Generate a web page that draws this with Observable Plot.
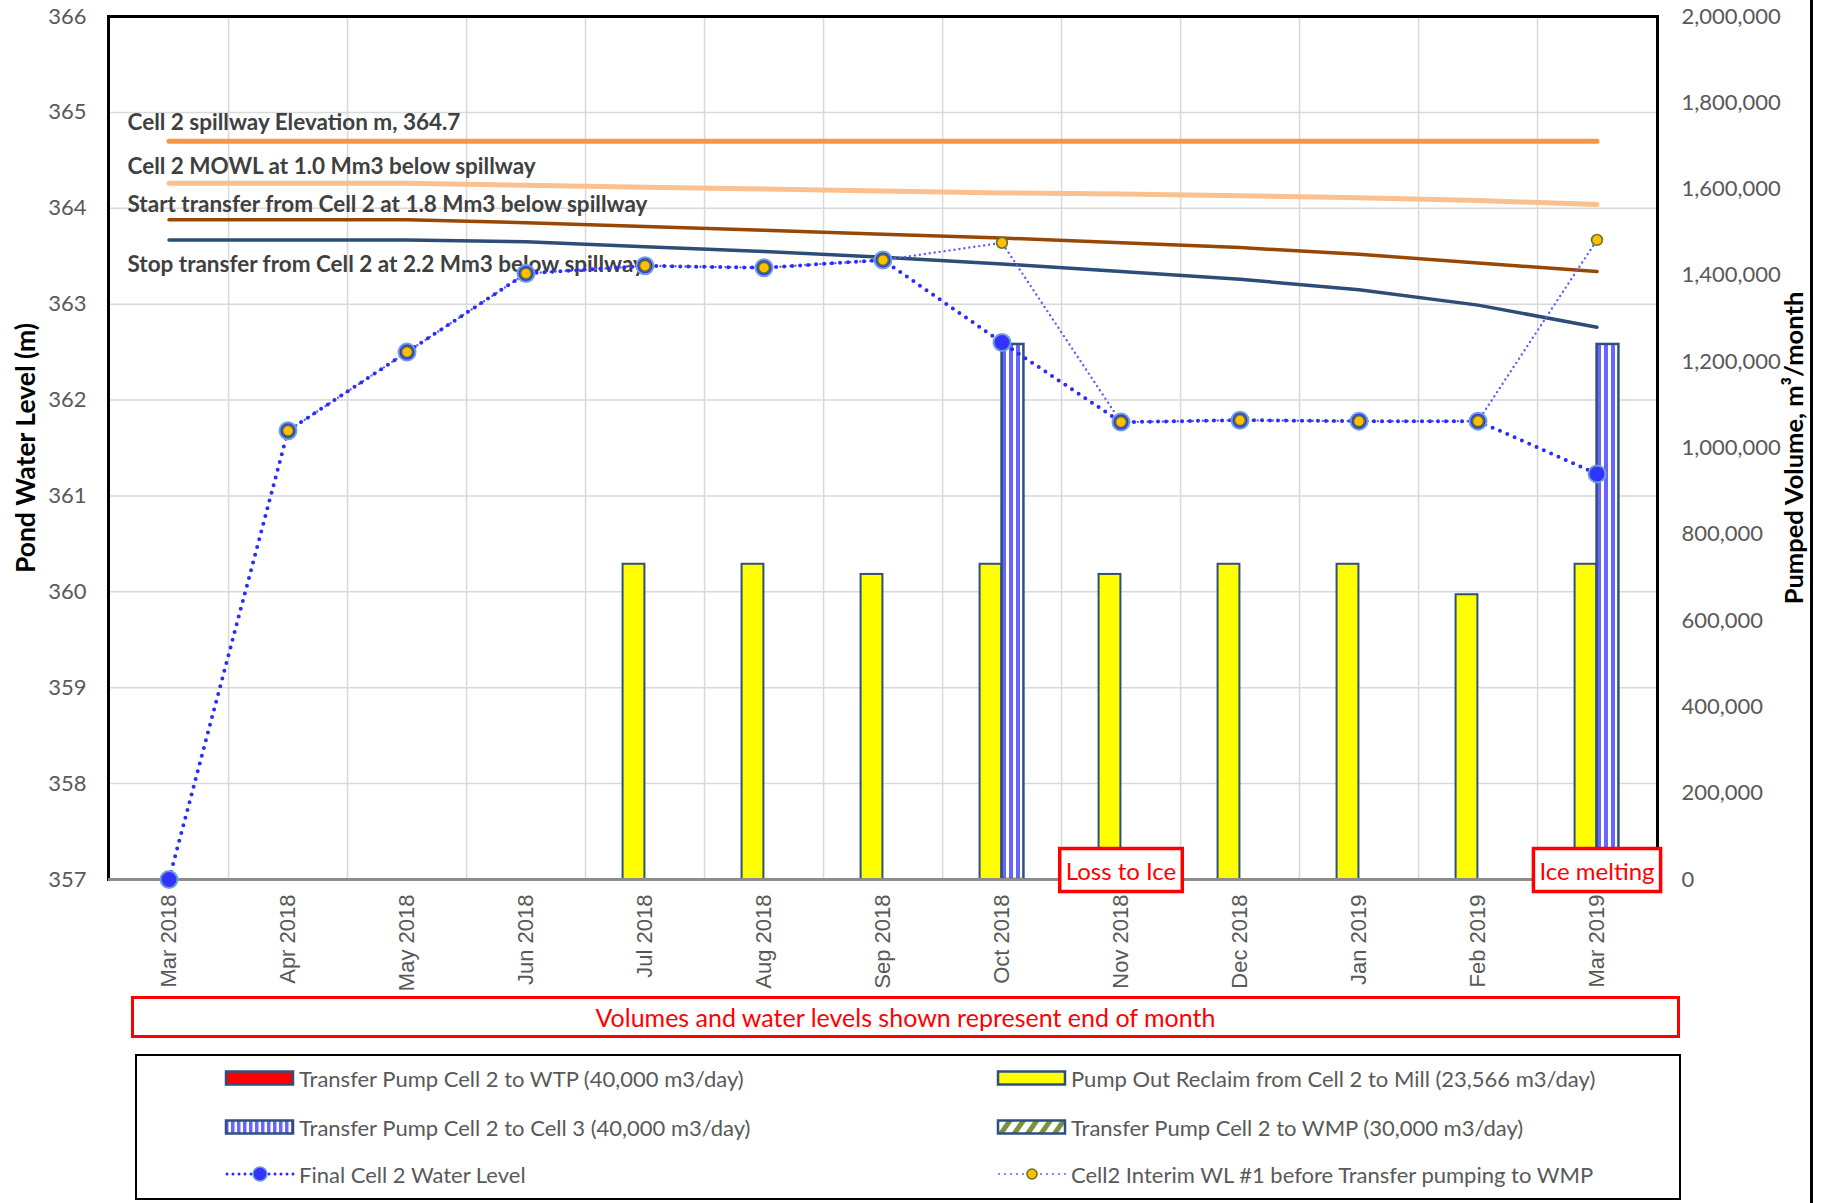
<!DOCTYPE html>
<html>
<head>
<meta charset="utf-8">
<script src="https://cdn.jsdelivr.net/npm/d3@7"></script>
<script src="https://cdn.jsdelivr.net/npm/@observablehq/plot@0.6"></script>
<style>
  html, body { margin: 0; padding: 0; background: #fff; }
  #wrap { position: relative; width: 1823px; height: 1203px; overflow: hidden; font-family: Lato, "Open Sans", sans-serif; }
  #chart { position: absolute; left: 0; top: 0; }
  #note { position: absolute; left: 131px; top: 996px; width: 1543px; height: 36px; border: 3px solid #ff0000;
          color: #ff0000; font-size: 25px; text-align: center; line-height: 36px; }
  #legend { position: absolute; left: 135px; top: 1054px; width: 1542px; height: 142px; border: 2.5px solid #000; }
  .lg { position: absolute; display: flex; align-items: center; height: 30px; color: #595959; font-size: 22px; white-space: nowrap; }
  .lg svg { margin-right: 3px; }
  #rightline { position: absolute; left: 1810px; top: 0; width: 3px; height: 1203px; background: #000; }
</style>
</head>
<body>
<div id="wrap">
  <div id="chart"></div>
  <div id="note"></div>
  <div id="legend"></div>
  <div id="rightline"></div>
</div>
<script>
// ---------------- DATA ----------------
const months = ["Mar 2018","Apr 2018","May 2018","Jun 2018","Jul 2018","Aug 2018","Sep 2018",
                "Oct 2018","Nov 2018","Dec 2018","Jan 2019","Feb 2019","Mar 2019"];

// Pond water levels (m)
const finalLevel   = [357.00, 361.68, 362.50, 363.32, 363.40, 363.38, 363.46, 362.60, 361.77, 361.79, 361.78, 361.78, 361.23];
const interimLevel = [null,   361.68, 362.50, 363.32, 363.40, 363.38, 363.46, 363.64, 361.77, 361.79, 361.78, 361.78, 363.67];

// Reference elevations (m)
const spillwayLevel = [364.70, 364.70, 364.70, 364.70, 364.70, 364.70, 364.70, 364.70, 364.70, 364.70, 364.70, 364.70, 364.70];
const mowlLevel     = [364.26, 364.26, 364.26, 364.24, 364.22, 364.20, 364.18, 364.16, 364.15, 364.13, 364.11, 364.08, 364.04];
const startLevel    = [363.88, 363.88, 363.88, 363.85, 363.81, 363.77, 363.73, 363.69, 363.64, 363.59, 363.52, 363.43, 363.34];
const stopLevel     = [363.67, 363.67, 363.67, 363.65, 363.60, 363.55, 363.49, 363.42, 363.34, 363.26, 363.15, 362.99, 362.76];

// Pumped volumes (m3/month)
const wtpVolume     = [0,0,0,0,0,0,0,0,0,0,0,0,0];
const reclaimVolume = [0,0,0,0,730546,730546,706980,730546,706980,730546,730546,659848,730546];
const cell3Volume   = [0,0,0,0,0,0,0,1240000,0,0,0,0,1240000];
const wmpVolume     = [0,0,0,0,0,0,0,0,0,0,0,0,0];

// Axis ticks
const levelTicks  = [357, 358, 359, 360, 361, 362, 363, 364, 365, 366];
const volumeTicks = [0, 200000, 400000, 600000, 800000, 1000000, 1200000, 1400000, 1600000, 1800000, 2000000];

// Texts
const refLabels = ["Cell 2 spillway Elevation m, 364.7",
                   "Cell 2 MOWL at 1.0 Mm3 below spillway",
                   "Start transfer from Cell 2 at 1.8 Mm3 below spillway",
                   "Stop transfer from Cell 2 at 2.2 Mm3 below spillway"];
const noteMonths = ["Nov 2018", "Mar 2019"];
const noteTexts  = ["Loss to Ice", "Ice melting"];
const footNote = "Volumes and water levels shown represent end of month";
const legendNames = ["Transfer Pump Cell 2 to WTP (40,000 m3/day)",
                     "Pump Out Reclaim from Cell 2 to Mill (23,566 m3/day)",
                     "Transfer Pump Cell 2 to Cell 3 (40,000 m3/day)",
                     "Transfer Pump Cell 2 to WMP (30,000 m3/day)",
                     "Final Cell 2 Water Level",
                     "Cell2 Interim WL #1 before Transfer pumping to WMP"];
const leftTitle = "Pond Water Level (m)";
const rightTitle = "Pumped Volume, m\u00B3/month";

// ---------------- CHART ----------------
const W = 1823, H = 995;
const mL = 108, mR = 166, mT = 16, mB = 116;
const bw = (W - mL - mR) / months.length;
const barW = 22;
const yMin = 357, yMax = 366, vMax = 2000000;
const toLevel = v => yMin + v / vMax * (yMax - yMin);
const toVolume = l => Math.round((l - yMin) / (yMax - yMin) * vMax);

const series = arr => months.map((m, i) => ({month: m, value: arr[i]})).filter(d => d.value != null);
const volSeries = arr => months.map((m, i) => ({month: m, value: arr[i]})).filter(d => d.value > 0);

const refs = [
  {data: series(spillwayLevel), stroke: "#f79646", w: 5,   label: refLabels[0], dy: -18},
  {data: series(mowlLevel),     stroke: "#fac090", w: 5,   label: refLabels[1], dy: -17},
  {data: series(startLevel),    stroke: "#974706", w: 3.5, label: refLabels[2], dy: -15},
  {data: series(stopLevel),     stroke: "#2c4d75", w: 3.5, label: refLabels[3], dy: 25}
];

const notes = noteMonths.map((m, i) => ({month: m, level: 357.08, text: noteTexts[i]}));

const fontCal = "Lato, 'Open Sans', sans-serif";

const chart = Plot.plot({
  width: W, height: H,
  marginLeft: mL, marginRight: mR, marginTop: mT, marginBottom: mB,
  x: {type: "band", domain: months, padding: 0, axis: null},
  y: {domain: [yMin, yMax], axis: null},
  style: {background: "white", fontFamily: fontCal, overflow: "visible"},
  marks: [
    Plot.gridY(levelTicks, {stroke: "#d9d9d9", strokeOpacity: 1, strokeWidth: 1.5}),
    Plot.ruleX(months.slice(0, -1), {x: d => d, dx: bw / 2, stroke: "#d9d9d9", strokeWidth: 1.5}),
    // bars
    Plot.barY(volSeries(wtpVolume), {x: "month", y1: yMin, y2: d => toLevel(d.value), fill: "#ff0000", stroke: "#2f4f7f", strokeWidth: 2,
      insetLeft: bw / 2 - 2 * barW, insetRight: bw / 2 + barW}),
    Plot.barY(volSeries(reclaimVolume), {x: "month", y1: yMin, y2: d => toLevel(d.value), fill: "#ffff00", stroke: "#2f4f7f", strokeWidth: 2,
      insetLeft: bw / 2 - barW, insetRight: bw / 2}),
    Plot.barY(volSeries(cell3Volume), {x: "month", y1: yMin, y2: d => toLevel(d.value), fill: "url(#stripes)", stroke: "#2f4f7f", strokeWidth: 2.5,
      insetLeft: bw / 2, insetRight: bw / 2 - barW}),
    Plot.barY(volSeries(wmpVolume), {x: "month", y1: yMin, y2: d => toLevel(d.value), fill: "url(#hatch)", stroke: "#2f4f7f", strokeWidth: 2,
      insetLeft: bw / 2 + barW, insetRight: bw / 2 - 2 * barW}),
    // frame and axis line
    Plot.frame({stroke: "#000", strokeWidth: 3}),
    Plot.ruleY([yMin], {stroke: "#8c8c8c", strokeWidth: 3}),
    // reference lines
    ...refs.map(r => Plot.line(r.data, {x: "month", y: "value", stroke: r.stroke, strokeWidth: r.w, strokeLinecap: "round"})),
    ...refs.map(r => Plot.text([r.data[0]], {y: "value", text: () => r.label, frameAnchor: "left", dx: 19, dy: r.dy,
      textAnchor: "start", fontSize: 22.5, fontWeight: "bold", fill: "#404040", fontFamily: fontCal})),
    // water levels
    Plot.line(series(interimLevel), {x: "month", y: "value", stroke: "#5c5cff", strokeWidth: 2.4, strokeDasharray: "0 5", strokeLinecap: "round"}),
    Plot.line(series(finalLevel), {x: "month", y: "value", stroke: "#2b2bff", strokeWidth: 4, strokeDasharray: "0 8", strokeLinecap: "round"}),
    Plot.dot(series(finalLevel), {x: "month", y: "value", r: 8.5, fill: "#3333ff", stroke: "#6fa0d4", strokeWidth: 2}),
    Plot.dot(series(interimLevel), {x: "month", y: "value", r: 5.4, fill: "#ffc000", stroke: "#5f7428", strokeWidth: 1.6}),
    // axes
    Plot.axisX({tickRotate: -90, tickSize: 0, tickPadding: 15, fontSize: 22, fill: "#595959", fontFamily: "'Liberation Sans', Arial, sans-serif", label: null}),
    Plot.axisY(levelTicks, {anchor: "left", tickSize: 0, tickPadding: 22, fontSize: 22, fill: "#595959", label: null, tickFormat: d => String(d)}),
    Plot.axisY(volumeTicks.map(toLevel), {anchor: "right", tickSize: 0, tickPadding: 24, fontSize: 22, fill: "#595959", label: null,
      tickFormat: l => d3.format(",")(toVolume(l))}),
    Plot.text([leftTitle], {text: d => d, frameAnchor: "left", textAnchor: "middle", dx: -82, rotate: -90, fontSize: 26.5, fontWeight: "bold", fill: "#000"}),
    Plot.text([rightTitle], {text: d => d, frameAnchor: "right", textAnchor: "middle", dx: 137, rotate: -90, fontSize: 25.5, fontWeight: "bold", fill: "#000"}),
    // notes
    Plot.text(notes, {x: "month", y: "level", text: "text", fill: "#ff0000", fontSize: 24, fontFamily: fontCal})
  ]
});

document.getElementById("chart").appendChild(chart);

// patterns
d3.select(chart).insert("defs", ":first-child").html(`
  <pattern id="stripes" patternUnits="userSpaceOnUse" width="7" height="10">
    <rect width="7" height="10" fill="#fff"/><rect x="1" width="4" height="10" fill="#6666ff"/>
  </pattern>
  <pattern id="hatch" patternUnits="userSpaceOnUse" width="10" height="10" patternTransform="rotate(35)">
    <rect width="10" height="10" fill="#fff"/><rect width="5" height="10" fill="#77933c"/>
  </pattern>`);

// boxes around notes
const svgRect = chart.getBoundingClientRect();
d3.select(chart).selectAll("g[fill='#ff0000'] text").each(function() {
  const b = this.getBoundingClientRect();
  const padX = 6, padY = 8;
  d3.select(chart).append("rect")
    .attr("x", b.left - svgRect.left - padX).attr("y", b.top - svgRect.top - padY + 1)
    .attr("width", b.width + 2 * padX).attr("height", b.height + 2 * padY - 2)
    .attr("fill", "#fff").attr("stroke", "#ff0000").attr("stroke-width", 3.5);
});
d3.select(chart).selectAll("g[fill='#ff0000']").raise();

// footnote
document.getElementById("note").textContent = footNote;

// legend
const legendKinds = [
  {fill: "#ff0000"}, {fill: "#ffff00"}, {fill: "url(#lgStripes)"}, {fill: "url(#lgHatch)"},
  {line: "#2b2bff", dot: "#3333ff", dotStroke: "#6fa0d4", r: 7},
  {line: "#5c5cff", dot: "#ffc000", dotStroke: "#5f7428", r: 5}
];
const legendPos = [[87, 7], [859, 7], [87, 56], [859, 56], [87, 103], [859, 103]];
const legend = document.getElementById("legend");
legendNames.forEach((name, i) => {
  const k = legendKinds[i];
  const div = document.createElement("div");
  div.className = "lg";
  div.style.left = legendPos[i][0] + "px";
  div.style.top = legendPos[i][1] + "px";
  let sw;
  if (k.fill) {
    sw = `<svg width="72" height="20"><defs>
      <pattern id="lgStripes" patternUnits="userSpaceOnUse" width="6" height="10"><rect width="6" height="10" fill="#fff"/><rect x="1" width="3.5" height="10" fill="#6666ff"/></pattern>
      <pattern id="lgHatch" patternUnits="userSpaceOnUse" width="11" height="10" patternTransform="rotate(35)"><rect width="11" height="10" fill="#fff"/><rect width="5" height="10" fill="#77933c"/></pattern>
      </defs><rect x="2" y="3.5" width="67" height="13" fill="${k.fill}" stroke="#2f4f7f" stroke-width="2.5"/></svg>`;
  } else {
    sw = `<svg width="72" height="20"><line x1="3" x2="70" y1="10" y2="10" stroke="${k.line}" stroke-width="${k.r > 6 ? 3 : 2}" stroke-dasharray="0 6" stroke-linecap="round"/>
      <circle cx="36" cy="10" r="${k.r}" fill="${k.dot}" stroke="${k.dotStroke}" stroke-width="1.6"/></svg>`;
  }
  div.innerHTML = sw + `<span>${name}</span>`;
  legend.appendChild(div);
});
</script>
</body>
</html>
